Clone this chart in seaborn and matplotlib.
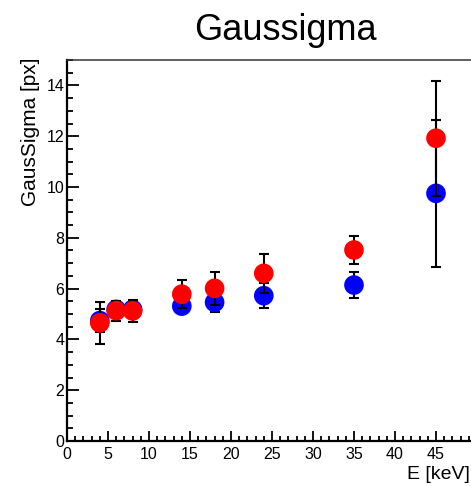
import matplotlib
matplotlib.use("Agg")
import matplotlib.pyplot as plt
from matplotlib.ticker import MultipleLocator, FuncFormatter
import numpy as np
import pandas as pd
import seaborn as sns

# Beam energies and fitted Gaussian sigma for the two data sets
energy_kev = [4, 6, 8, 14, 18, 24, 35, 45]
sigma_blue = [4.74, 5.18, 5.18, 5.31, 5.46, 5.72, 6.14, 9.75]
sigma_blue_err = [0.45, 0.33, 0.35, 0.22, 0.37, 0.49, 0.51, 2.90]
sigma_red = [4.65, 5.13, 5.12, 5.78, 6.01, 6.60, 7.52, 11.92]
sigma_red_err = [0.82, 0.40, 0.45, 0.56, 0.66, 0.76, 0.57, 2.27]

sns.set_theme(style="white")
plt.rcParams["font.family"] = ["Liberation Sans", "DejaVu Sans"]

fig = plt.figure(figsize=(4.71, 4.86), dpi=100)
ax = fig.add_axes([67 / 471, 1 - 441 / 486, 410 / 471, 381 / 486])

series = [
    ("blue", "#0000ff", sigma_blue, sigma_blue_err),
    ("red", "#ff0000", sigma_red, sigma_red_err),
]
z = 2
for name, color, vals, errs in series:
    df = pd.DataFrame({"E": energy_kev, "sigma": vals, "err": errs})
    ax.errorbar(df["E"], df["sigma"], yerr=df["err"], fmt="none",
                ecolor="black", elinewidth=1.5, capsize=3.6, capthick=1.5,
                zorder=z)
    sns.scatterplot(data=df, x="E", y="sigma", color=color, s=200,
                    edgecolor="none", linewidth=0, ax=ax, zorder=z + 1)
    z += 2

ax.set_xlim(0, 50)
ax.set_ylim(0, 15)
ax.xaxis.set_major_locator(MultipleLocator(5))
ax.xaxis.set_minor_locator(MultipleLocator(1))
ax.yaxis.set_major_locator(MultipleLocator(2))
ax.yaxis.set_minor_locator(MultipleLocator(0.5))
# the label of the last x tick sits on the right frame edge and is left blank
ax.xaxis.set_major_formatter(FuncFormatter(lambda v, p: "" if v >= 50 else f"{v:g}"))

ax.tick_params(axis="both", which="both", direction="in", color="black",
               labelsize=11.5, labelcolor="black")
ax.tick_params(axis="y", which="major", length=8.5, width=1.3, pad=2)
ax.tick_params(axis="y", which="minor", length=4, width=1.3)
ax.tick_params(axis="x", which="major", length=7, width=1.3, pad=4)
ax.tick_params(axis="x", which="minor", length=3.5, width=1.3)
ax.tick_params(left=True, bottom=True, which="both")

for side in ["left", "bottom"]:
    ax.spines[side].set_color("black")
    ax.spines[side].set_linewidth(1.6)
ax.spines["top"].set_color("#333333")
ax.spines["top"].set_linewidth(1.1)
ax.spines["right"].set_color("#333333")
ax.spines["right"].set_linewidth(1.1)

ax.set_xlabel("")
ax.set_ylabel("")
fig.text(470 / 471, 1 - 474 / 486, "E [keV]", ha="right", va="center",
         fontsize=14, color="black")
fig.text(31 / 471, 1 - 58 / 486, "GausSigma [px]", ha="center", va="top",
         rotation=90, fontsize=15, color="black")
fig.text(285 / 471, 1 - 31 / 486, "Gaussigma", ha="center", va="center",
         fontsize=26, color="black")

fig.savefig("out.png", dpi=100)
